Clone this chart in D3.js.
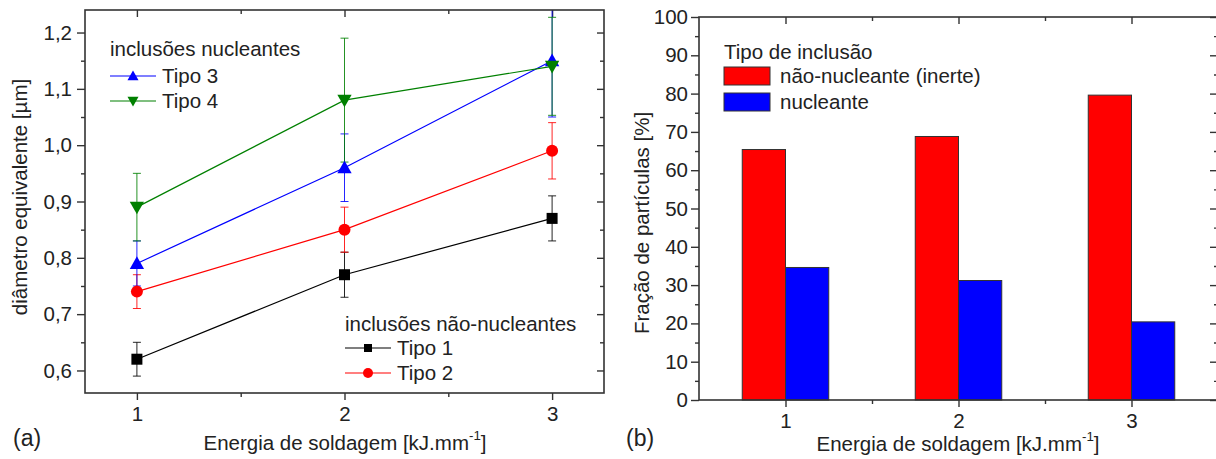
<!DOCTYPE html>
<html>
<head>
<meta charset="utf-8">
<script src="https://cdn.jsdelivr.net/npm/d3@7"></script>
<style>
  html, body { margin: 0; padding: 0; background: #fff; }
  svg { display: block; }
  text { font-family: "Liberation Sans", Arial, sans-serif; fill: #222; }
</style>
</head>
<body>
<svg id="chart" width="1216" height="459"></svg>
<script>
// ---------- DATA ----------
const energy = [1, 2, 3];
const tipo1 = [0.62, 0.77, 0.87];
const tipo1Err = [0.03, 0.04, 0.04];
const tipo2 = [0.74, 0.85, 0.99];
const tipo2Err = [0.03, 0.04, 0.05];
const tipo3 = [0.79, 0.96, 1.15];
const tipo3Err = [0.04, 0.06, 0.10];
const tipo4 = [0.89, 1.08, 1.14];
const tipo4Err = [0.06, 0.11, 0.087];
const leftYTicks = [0.6, 0.7, 0.8, 0.9, 1.0, 1.1, 1.2];
const leftYTickLabels = ["0,6", "0,7", "0,8", "0,9", "1,0", "1,1", "1,2"];
const leftYMinor = [0.65, 0.75, 0.85, 0.95, 1.05, 1.15];
const xTicks = [1, 2, 3];
const naoNucleante = [65.4, 68.8, 79.6];
const nucleante = [34.6, 31.2, 20.4];
const rightYTicks = [0, 10, 20, 30, 40, 50, 60, 70, 80, 90, 100];
const rightYMinor = [5, 15, 25, 35, 45, 55, 65, 75, 85, 95];

// ---------- SETUP ----------
const svg = d3.select("#chart");
const FS = 20.5;
const frameColor = "#333";

function styleAxis(g, showText) {
  g.select(".domain").remove();
  g.selectAll(".tick line").attr("stroke", frameColor).attr("stroke-width", 1.4);
  g.selectAll(".tick text").attr("font-size", FS + "px").attr("fill", "#222");
  if (!showText) g.selectAll(".tick text").remove();
}

function frame(x0, x1, y0, y1) {
  svg.append("rect").attr("x", x0).attr("y", y0).attr("width", x1 - x0).attr("height", y1 - y0)
    .attr("fill", "none").attr("stroke", frameColor).attr("stroke-width", 1.6);
}

// ---------- LEFT PANEL ----------
const L = { x0: 85, x1: 604, y0: 10, y1: 393 };
const xL = d3.scaleLinear().domain([0.75, 3.25]).range([L.x0, L.x1]);
const yL = d3.scaleLinear().domain([0.56, 1.24]).range([L.y1, L.y0]);
const minorXL = [1.5, 2.5];

svg.append("g").attr("transform", `translate(0,${L.y1})`)
  .call(d3.axisBottom(xL).tickValues(xTicks).tickFormat(d3.format("d")).tickSize(7).tickPadding(6))
  .call(g => styleAxis(g, true));
svg.append("g").attr("transform", `translate(0,${L.y1})`)
  .call(d3.axisBottom(xL).tickValues(minorXL).tickSize(4).tickFormat(""))
  .call(g => styleAxis(g, false));
svg.append("g").attr("transform", `translate(0,${L.y0})`)
  .call(d3.axisTop(xL).tickValues(xTicks).tickSize(-7).tickFormat(""))
  .call(g => styleAxis(g, false));
svg.append("g").attr("transform", `translate(0,${L.y0})`)
  .call(d3.axisTop(xL).tickValues(minorXL).tickSize(-4).tickFormat(""))
  .call(g => styleAxis(g, false));
svg.append("g").attr("transform", `translate(${L.x0},0)`)
  .call(d3.axisLeft(yL).tickValues(leftYTicks).tickFormat((d, i) => leftYTickLabels[i]).tickSize(8).tickPadding(5))
  .call(g => styleAxis(g, true));
svg.append("g").attr("transform", `translate(${L.x0},0)`)
  .call(d3.axisLeft(yL).tickValues(leftYMinor).tickSize(4).tickFormat(""))
  .call(g => styleAxis(g, false));
svg.append("g").attr("transform", `translate(${L.x1},0)`)
  .call(d3.axisRight(yL).tickValues(leftYTicks).tickSize(-7).tickFormat(""))
  .call(g => styleAxis(g, false));
svg.append("g").attr("transform", `translate(${L.x1},0)`)
  .call(d3.axisRight(yL).tickValues(leftYMinor).tickSize(-4).tickFormat(""))
  .call(g => styleAxis(g, false));

svg.append("clipPath").attr("id", "clipL").append("rect")
  .attr("x", L.x0).attr("y", L.y0).attr("width", L.x1 - L.x0).attr("height", L.y1 - L.y0);

const seriesL = [
  { vals: tipo1, err: tipo1Err, color: "#000000", shape: "square" },
  { vals: tipo2, err: tipo2Err, color: "#ff0000", shape: "circle" },
  { vals: tipo3, err: tipo3Err, color: "#0000ff", shape: "up" },
  { vals: tipo4, err: tipo4Err, color: "#008000", shape: "down" }
];

function markerPath(shape, s) {
  if (shape === "square") return `M${-s/2},${-s/2}h${s}v${s}h${-s}Z`;
  if (shape === "up") return `M0,${-s*0.55}L${s*0.55},${s*0.42}L${-s*0.55},${s*0.42}Z`;
  if (shape === "down") return `M0,${s*0.55}L${s*0.55},${-s*0.42}L${-s*0.55},${-s*0.42}Z`;
  return null;
}

const plotL = svg.append("g").attr("clip-path", "url(#clipL)");
const line = d3.line().x((d, i) => xL(energy[i])).y(d => yL(d));

seriesL.forEach(s => {
  const g = plotL.append("g");
  energy.forEach((e, i) => {
    const cx = xL(e), lo = yL(s.vals[i] - s.err[i]), hi = yL(s.vals[i] + s.err[i]);
    g.append("line").attr("x1", cx).attr("x2", cx).attr("y1", lo).attr("y2", hi)
      .attr("stroke", s.color).attr("stroke-width", 1).attr("opacity", 0.85);
    [lo, hi].forEach(yy => g.append("line").attr("x1", cx - 4).attr("x2", cx + 4).attr("y1", yy).attr("y2", yy)
      .attr("stroke", s.color).attr("stroke-width", 1).attr("opacity", 0.85));
  });
  g.append("path").datum(s.vals).attr("d", line).attr("fill", "none")
    .attr("stroke", s.color).attr("stroke-width", 1.2);
});
seriesL.forEach(s => {
  energy.forEach((e, i) => {
    const cx = xL(e), cy = yL(s.vals[i]);
    if (s.shape === "circle") {
      plotL.append("circle").attr("cx", cx).attr("cy", cy).attr("r", 6).attr("fill", s.color);
    } else {
      plotL.append("path").attr("d", markerPath(s.shape, s.shape === "square" ? 11 : 13))
        .attr("transform", `translate(${cx},${cy})`).attr("fill", s.color);
    }
  });
});

frame(L.x0, L.x1, L.y0, L.y1);

function legendItem(x, y, s, label) {
  svg.append("line").attr("x1", x).attr("x2", x + 46).attr("y1", y).attr("y2", y)
    .attr("stroke", s.color).attr("stroke-width", 1.2);
  const mx = x + 23;
  if (s.shape === "circle") {
    svg.append("circle").attr("cx", mx).attr("cy", y).attr("r", 5).attr("fill", s.color);
  } else {
    svg.append("path").attr("d", markerPath(s.shape, s.shape === "square" ? 8 : 10))
      .attr("transform", `translate(${mx},${y})`).attr("fill", s.color);
  }
  svg.append("text").attr("x", x + 52).attr("y", y).attr("dy", "0.35em")
    .attr("font-size", FS + "px").text(label);
}
svg.append("text").attr("x", 110).attr("y", 49).attr("dy", "0.35em").attr("font-size", FS + "px")
  .text("inclusões nucleantes");
legendItem(110, 76, seriesL[2], "Tipo 3");
legendItem(110, 101, seriesL[3], "Tipo 4");
svg.append("text").attr("x", 345).attr("y", 324).attr("dy", "0.35em").attr("font-size", FS + "px")
  .text("inclusões não-nucleantes");
legendItem(345, 348, seriesL[0], "Tipo 1");
legendItem(345, 373, seriesL[1], "Tipo 2");

function xTitle(cx, y) {
  const t = svg.append("text").attr("x", cx).attr("y", y).attr("text-anchor", "middle")
    .attr("font-size", FS + "px");
  t.append("tspan").text("Energia de soldagem [kJ.mm");
  t.append("tspan").attr("font-size", (FS * 0.65) + "px").attr("dy", "-0.75em").text("-1");
  t.append("tspan").attr("dy", "0.5em").text("]");
}
xTitle(345, 450);
svg.append("text").attr("transform", "translate(27,197) rotate(-90)").attr("text-anchor", "middle")
  .attr("font-size", FS + "px").text("diâmetro equivalente [µm]");
svg.append("text").attr("x", 13).attr("y", 446).attr("font-size", "23px").text("(a)");

// ---------- RIGHT PANEL ----------
const R = { x0: 699, x1: 1218, y0: 17, y1: 400 };
const xR = d3.scaleLinear().domain([0.5, 3.5]).range([R.x0, R.x1]);
const yR = d3.scaleLinear().domain([0, 100]).range([R.y1, R.y0]);
const minorXR = [1.5, 2.5];
const barW = xR(1.25) - xR(1);

svg.append("g").attr("transform", `translate(0,${R.y1})`)
  .call(d3.axisBottom(xR).tickValues(xTicks).tickFormat(d3.format("d")).tickSize(7).tickPadding(6))
  .call(g => styleAxis(g, true));
svg.append("g").attr("transform", `translate(0,${R.y1})`)
  .call(d3.axisBottom(xR).tickValues(minorXR).tickSize(4).tickFormat(""))
  .call(g => styleAxis(g, false));
svg.append("g").attr("transform", `translate(0,${R.y0})`)
  .call(d3.axisTop(xR).tickValues(xTicks).tickSize(-7).tickFormat(""))
  .call(g => styleAxis(g, false));
svg.append("g").attr("transform", `translate(0,${R.y0})`)
  .call(d3.axisTop(xR).tickValues(minorXR).tickSize(-4).tickFormat(""))
  .call(g => styleAxis(g, false));
svg.append("g").attr("transform", `translate(${R.x0},0)`)
  .call(d3.axisLeft(yR).tickValues(rightYTicks).tickFormat(d3.format("d")).tickSize(8).tickPadding(3))
  .call(g => styleAxis(g, true));
svg.append("g").attr("transform", `translate(${R.x0},0)`)
  .call(d3.axisLeft(yR).tickValues(rightYMinor).tickSize(4).tickFormat(""))
  .call(g => styleAxis(g, false));
svg.append("g").attr("transform", `translate(${R.x1},0)`)
  .call(d3.axisRight(yR).tickValues(rightYTicks).tickSize(-8).tickFormat(""))
  .call(g => styleAxis(g, false));
svg.append("g").attr("transform", `translate(${R.x1},0)`)
  .call(d3.axisRight(yR).tickValues(rightYMinor).tickSize(-4).tickFormat(""))
  .call(g => styleAxis(g, false));

svg.append("g").selectAll("rect").data(naoNucleante).join("rect")
  .attr("x", (d, i) => xR(energy[i]) - barW).attr("width", barW)
  .attr("y", d => yR(d)).attr("height", d => yR(0) - yR(d))
  .attr("fill", "#ff0000").attr("stroke", "#333").attr("stroke-width", 1);
svg.append("g").selectAll("rect").data(nucleante).join("rect")
  .attr("x", (d, i) => xR(energy[i])).attr("width", barW)
  .attr("y", d => yR(d)).attr("height", d => yR(0) - yR(d))
  .attr("fill", "#0000ff").attr("stroke", "#333").attr("stroke-width", 1);

frame(R.x0, R.x1, R.y0, R.y1);

svg.append("text").attr("x", 724).attr("y", 52).attr("dy", "0.35em").attr("font-size", FS + "px")
  .text("Tipo de inclusão");
svg.append("rect").attr("x", 724).attr("y", 67).attr("width", 46).attr("height", 18)
  .attr("fill", "#ff0000").attr("stroke", "#333").attr("stroke-width", 1);
svg.append("text").attr("x", 780).attr("y", 76).attr("dy", "0.35em").attr("font-size", FS + "px")
  .text("não-nucleante (inerte)");
svg.append("rect").attr("x", 724).attr("y", 93).attr("width", 46).attr("height", 18)
  .attr("fill", "#0000ff").attr("stroke", "#333").attr("stroke-width", 1);
svg.append("text").attr("x", 780).attr("y", 102).attr("dy", "0.35em").attr("font-size", FS + "px")
  .text("nucleante");

xTitle(958, 451);
svg.append("text").attr("transform", "translate(649,223) rotate(-90)").attr("text-anchor", "middle")
  .attr("font-size", FS + "px").text("Fração de partículas [%]");
svg.append("text").attr("x", 626).attr("y", 446).attr("font-size", "23px").text("(b)");
</script>
</body>
</html>
